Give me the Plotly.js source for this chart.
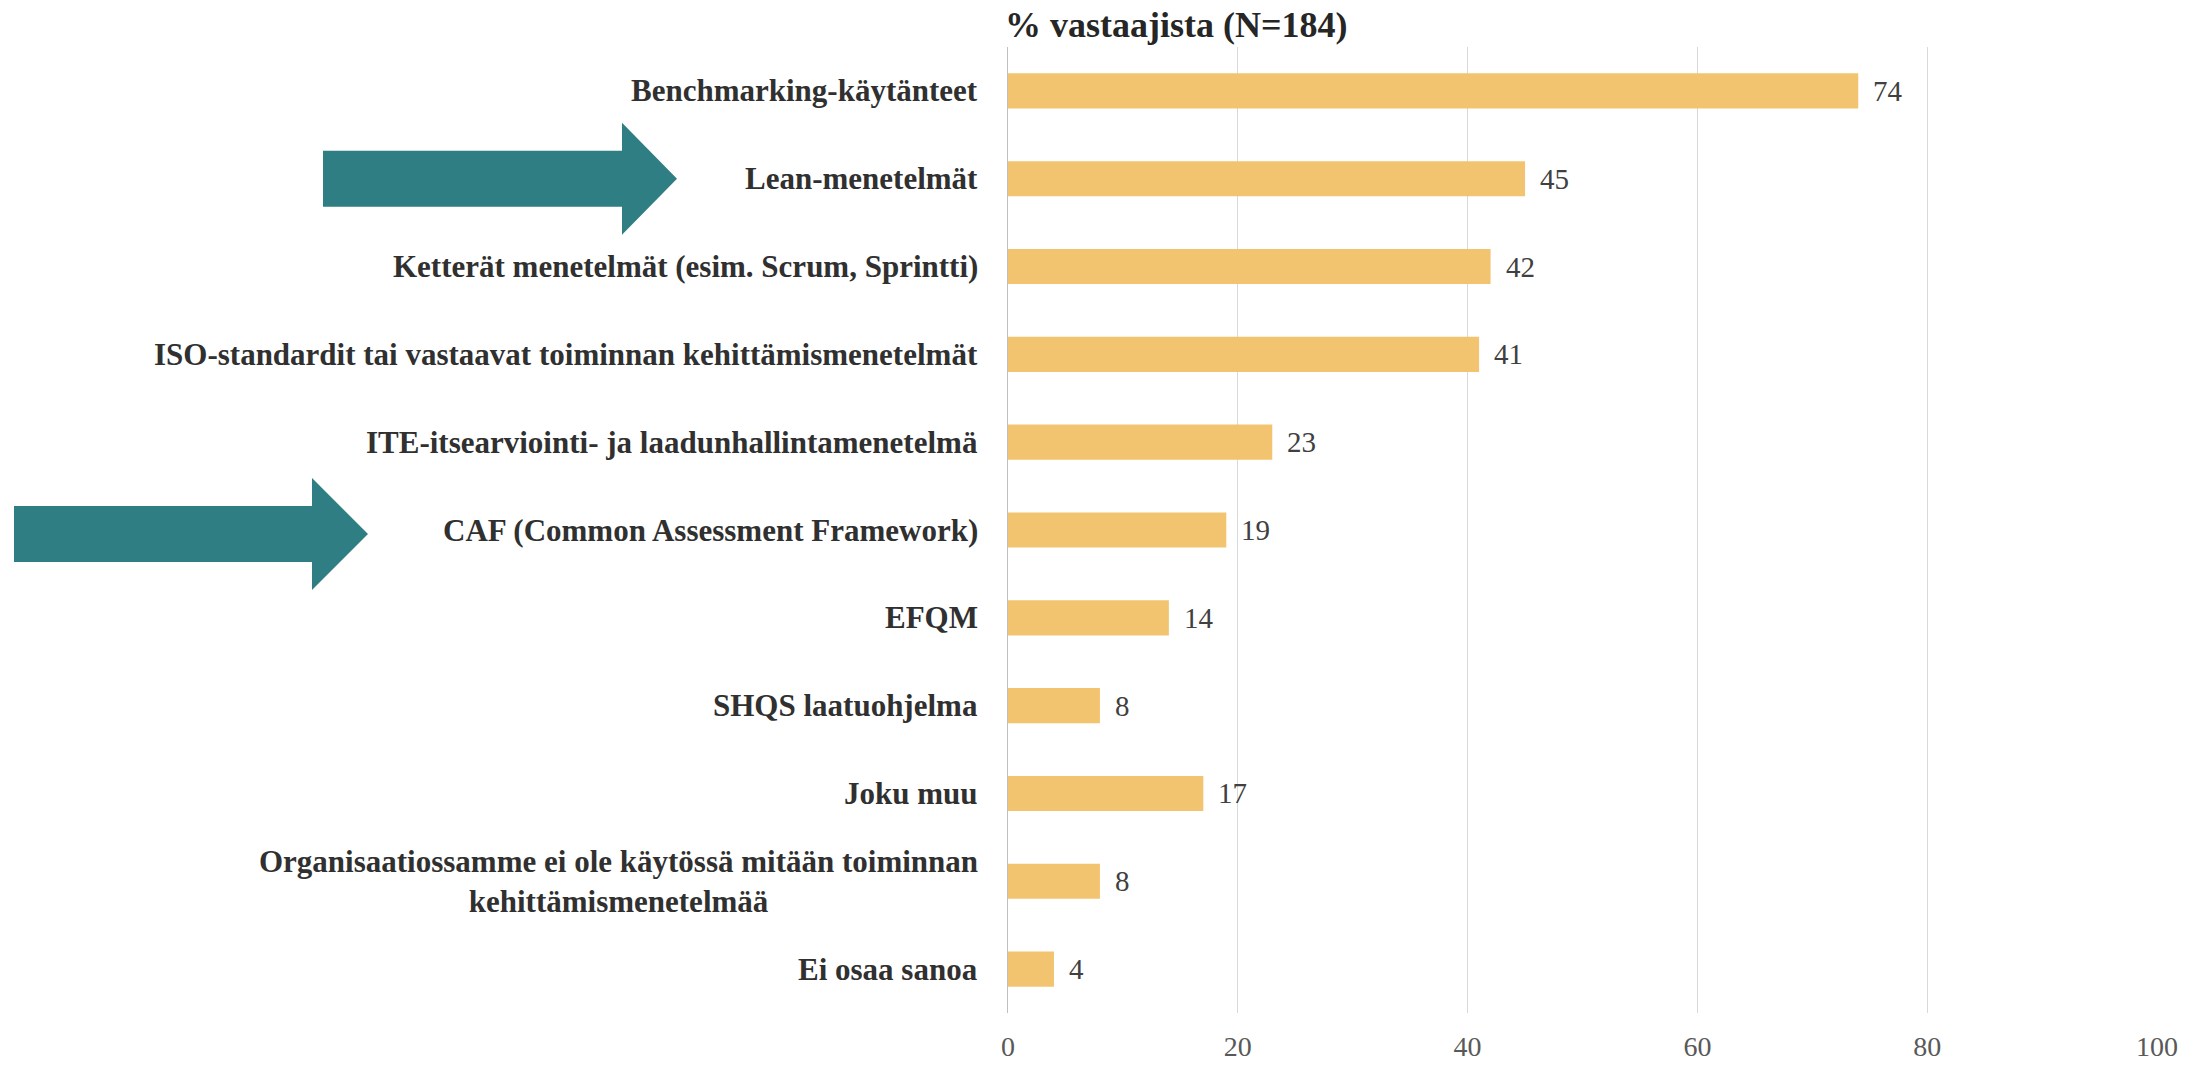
<!DOCTYPE html>
<html>
<head>
<meta charset="utf-8">
<script src="https://cdn.plot.ly/plotly-3.0.1.min.js"></script>
<style>html,body{margin:0;padding:0;background:#fff;}#chart{width:2198px;height:1065px;}</style>
</head>
<body>
<div id="chart"></div>
<script>
var categories = [
  "Benchmarking-käytänteet",
  "Lean-menetelmät",
  "Ketterät menetelmät (esim. Scrum, Sprintti)",
  "ISO-standardit tai vastaavat toiminnan kehittämismenetelmät",
  "ITE-itsearviointi- ja laadunhallintamenetelmä",
  "CAF (Common Assessment Framework)",
  "EFQM",
  "SHQS laatuohjelma",
  "Joku muu",
  "Organisaatiossamme ei ole käytössä mitään toiminnan<br>kehittämismenetelmää",
  "Ei osaa sanoa"
];
var values = [74, 45, 42, 41, 23, 19, 14, 8, 17, 8, 4];
var xTicks = [0, 20, 40, 60, 80, 100];

var W = 2198, H = 1065;
var M = {l: 1008, r: 41, t: 47, b: 52};
var PW = W - M.l - M.r, PH = H - M.t - M.b;
var FONT = '"Liberation Serif", "DejaVu Serif", serif';

function px2paperX(px) { return (px - M.l) / PW; }
function px2paperY(py) { return (H - M.b - py) / PH; }

// arrows (pixel geometry relative to the label row)
var arrowGeom = [
  {x0: 323, xb: 622, xt: 677, shaft: 28, head: 56, cat: 1, dy: 0},
  {x0: 14,  xb: 312, xt: 368, shaft: 28, head: 56, cat: 5, dy: 4}
];
var step = PH / categories.length;
var shapes = arrowGeom.map(function (a) {
  var cy = M.t + step * (a.cat + 0.5) + a.dy;
  var pts = [
    [a.x0, cy - a.shaft], [a.xb, cy - a.shaft], [a.xb, cy - a.head],
    [a.xt, cy], [a.xb, cy + a.head], [a.xb, cy + a.shaft], [a.x0, cy + a.shaft]
  ];
  var d = pts.map(function (p, i) {
    return (i === 0 ? 'M' : 'L') + px2paperX(p[0]).toFixed(5) + ',' + px2paperY(p[1]).toFixed(5);
  }).join(' ') + ' Z';
  return {type: 'path', xref: 'paper', yref: 'paper', path: d,
          fillcolor: '#2F7E83', line: {width: 0}, layer: 'above'};
});

var annotations = [];
categories.forEach(function (c, i) {
  var lines = c.split('<br>');
  if (lines.length === 1) {
    annotations.push({
      xref: 'paper', yref: 'y', x: 0, y: c, xanchor: 'right', yanchor: 'middle',
      xshift: -28, text: '<b>' + c + '</b>', showarrow: false, align: 'center',
      font: {family: FONT, size: 31, color: '#303030'}
    });
  } else {
    annotations.push({
      xref: 'paper', yref: 'y', x: 0, y: c, xanchor: 'right', yanchor: 'middle',
      xshift: -28, text: '<b>' + lines.join('</b><br><b>') + '</b>', showarrow: false, align: 'center',
      font: {family: FONT, size: 31, color: '#303030'}
    });
  }
  annotations.push({
    xref: 'x', yref: 'y', x: values[i], y: c, xanchor: 'left', yanchor: 'middle',
    xshift: 13, text: String(values[i]), showarrow: false,
    font: {family: FONT, size: 29, color: '#404040'}
  });
});

var trace = {
  type: 'bar', orientation: 'h',
  x: values, y: categories,
  marker: {color: '#F2C46F', line: {width: 0}},
  width: 0.4, hoverinfo: 'none'
};

var layout = {
  width: W, height: H,
  margin: M,
  paper_bgcolor: '#fff', plot_bgcolor: '#fff',
  showlegend: false,
  title: {
    text: '<b>% vastaajista (N=184)</b>',
    xref: 'container', yref: 'container',
    x: 1005 / W, xanchor: 'left', y: 1 - 24 / H, yanchor: 'middle',
    font: {family: FONT, size: 36, color: '#262626'}
  },
  xaxis: {
    range: [0, 100], tickvals: xTicks, ticktext: xTicks.map(String),
    showgrid: true, gridcolor: '#d9d9d9', gridwidth: 1,
    zeroline: false, showline: false, ticks: '',
    ticklabelstandoff: 14,
    tickfont: {family: FONT, size: 28, color: '#595959'},
    fixedrange: true
  },
  yaxis: {
    type: 'category', categoryarray: categories, categoryorder: 'array',
    autorange: 'reversed', showticklabels: false, ticks: '',
    showgrid: false, zeroline: false,
    showline: true, linecolor: '#bfbfbf', linewidth: 1.5,
    fixedrange: true
  },
  shapes: shapes,
  annotations: annotations
};

Plotly.newPlot('chart', [trace], layout, {displayModeBar: false, staticPlot: true});
</script>
</body>
</html>
